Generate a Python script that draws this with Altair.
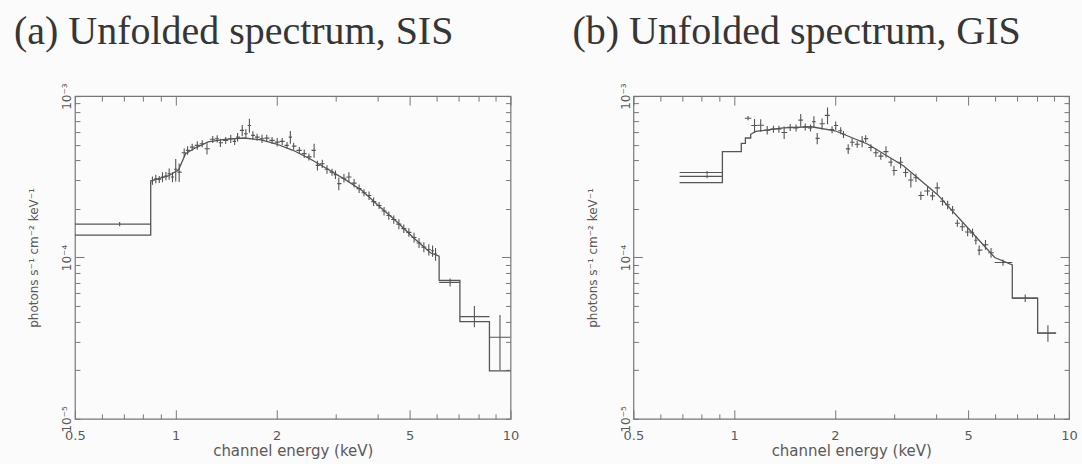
import altair as alt
import pandas as pd

# ---------------- data ----------------
# energies in keV, fluxes in units of 1e-4 photons s^-1 cm^-2 keV^-1

# SIS model (binned, step edges repeated)
SIS_MODEL_E = [0.5, 0.842, 0.842, 0.95, 1.02, 1.07, 1.15, 1.25, 1.4, 1.6,
               1.8, 2.0, 2.25, 2.53, 2.8, 3.2, 3.6, 4.05, 4.5, 5.12,
               5.76, 6.12, 6.12, 7.06, 7.06, 8.65, 8.65, 10.0]
SIS_MODEL_F = [1.375, 1.375, 2.98, 3.2, 3.5, 4.4, 4.8, 5.2, 5.4, 5.5,
               5.35, 5.05, 4.6, 4.06, 3.6, 3.05, 2.6, 2.08, 1.72, 1.33,
               1.07, 1.02, 0.72, 0.72, 0.40, 0.40, 0.198, 0.198]

# SIS data, narrow bins
SIS_E = [0.852, 0.872, 0.893, 0.913, 0.935, 0.956, 0.978, 1.00, 1.024, 1.06,
         1.085, 1.12, 1.16, 1.20, 1.24, 1.29, 1.33, 1.36, 1.41, 1.46,
         1.50, 1.53, 1.58, 1.62, 1.66, 1.70, 1.75, 1.81, 1.87, 1.94,
         2.01, 2.08, 2.15, 2.20, 2.25, 2.34, 2.42, 2.50, 2.59, 2.65,
         2.74, 2.83, 2.93, 3.00, 3.07, 3.18, 3.29, 3.41, 3.53, 3.65,
         3.78, 3.90, 4.05, 4.19, 4.33, 4.48, 4.64, 4.80, 4.97, 5.15,
         5.33, 5.51, 5.70, 5.85, 5.97]
SIS_F = [3.00, 3.07, 3.05, 3.15, 3.20, 3.30, 3.15, 3.52, 3.38, 4.46,
         4.61, 4.83, 4.95, 5.07, 4.72, 5.40, 5.44, 5.14, 5.32, 5.44,
         5.24, 5.57, 6.13, 5.85, 6.58, 5.71, 5.57, 5.44, 5.49, 5.32,
         5.19, 5.24, 4.95, 5.57, 4.90, 4.61, 4.40, 4.20, 4.61, 3.72,
         3.81, 3.52, 3.38, 3.26, 2.87, 3.10, 3.15, 2.89, 2.67, 2.52,
         2.42, 2.22, 2.10, 1.94, 1.82, 1.72, 1.61, 1.51, 1.43, 1.33,
         1.23, 1.16, 1.12, 1.10, 1.05]
SIS_ERR = [0.06, 0.06, 0.05, 0.07, 0.06, 0.08, 0.07, 0.16, 0.13, 0.06,
           0.06, 0.05, 0.06, 0.05, 0.08, 0.05, 0.05, 0.06, 0.05, 0.06,
           0.05, 0.06, 0.08, 0.07, 0.10, 0.06, 0.05, 0.06, 0.05, 0.05,
           0.06, 0.05, 0.05, 0.09, 0.05, 0.05, 0.06, 0.05, 0.10, 0.07,
           0.06, 0.06, 0.05, 0.06, 0.09, 0.06, 0.07, 0.06, 0.06, 0.05,
           0.06, 0.06, 0.05, 0.06, 0.06, 0.06, 0.07, 0.06, 0.06, 0.07,
           0.07, 0.07, 0.08, 0.08, 0.09]
# SIS data, wide bins
SIS_W_E = [0.68, 6.6, 7.8, 9.3]
SIS_W_F = [1.61, 0.70, 0.43, 0.32]
SIS_W_ELO = [0.5, 6.12, 7.06, 8.65]
SIS_W_EHI = [0.842, 7.06, 8.65, 10.0]
SIS_W_FLO = [1.56, 0.66, 0.37, 0.20]
SIS_W_FHI = [1.66, 0.74, 0.50, 0.44]

# GIS model
GIS_MODEL_E = [0.687, 0.922, 0.922, 1.05, 1.05, 1.08, 1.08, 1.12, 1.12, 1.16,
               1.4, 1.7, 2.0, 2.5, 3.2, 4.05, 5.1, 6.0, 6.77, 6.77,
               8.06, 8.06, 9.15]
GIS_MODEL_F = [2.91, 2.91, 4.53, 4.53, 5.1, 5.1, 5.5, 5.5, 5.8, 6.05,
               6.36, 6.46, 6.1, 5.05, 3.7, 2.45, 1.45, 1.0, 0.9, 0.56,
               0.56, 0.34, 0.34]

GIS_E = [1.10, 1.15, 1.20, 1.255, 1.31, 1.36, 1.41, 1.47, 1.53, 1.58,
         1.63, 1.69, 1.73, 1.77, 1.83, 1.90, 1.96, 2.01, 2.08, 2.12,
         2.19, 2.25, 2.33, 2.41, 2.47, 2.56, 2.65, 2.74, 2.84, 2.94,
         3.00, 3.14, 3.25, 3.37, 3.49, 3.61, 3.78, 3.91, 4.04, 4.19,
         4.34, 4.49, 4.64, 4.80, 4.98, 5.15, 5.27, 5.39, 5.63, 5.85]
GIS_F = [7.30, 6.57, 6.60, 6.15, 6.25, 6.25, 5.95, 6.40, 6.35, 7.10,
         6.45, 6.35, 6.95, 5.47, 6.74, 7.60, 6.20, 6.57, 6.10, 5.80,
         4.71, 5.18, 5.03, 5.24, 5.45, 4.80, 4.46, 4.25, 4.53, 3.90,
         3.46, 3.89, 3.36, 3.02, 3.12, 2.42, 2.58, 2.41, 2.70, 2.23,
         2.12, 1.97, 1.63, 1.55, 1.44, 1.42, 1.28, 1.11, 1.20, 1.07]
GIS_ERR = [0.03, 0.10, 0.09, 0.06, 0.05, 0.05, 0.09, 0.05, 0.05, 0.09,
           0.05, 0.05, 0.08, 0.08, 0.08, 0.12, 0.05, 0.06, 0.05, 0.05,
           0.07, 0.06, 0.05, 0.08, 0.05, 0.05, 0.06, 0.05, 0.08, 0.06,
           0.07, 0.08, 0.06, 0.10, 0.06, 0.06, 0.06, 0.06, 0.08, 0.06,
           0.06, 0.06, 0.05, 0.06, 0.06, 0.06, 0.06, 0.07, 0.07, 0.07]
GIS_W_E = [0.83, 0.83, 6.35, 7.4, 8.65]
GIS_W_F = [3.36, 3.18, 0.93, 0.56, 0.34]
GIS_W_ELO = [0.687, 0.687, 6.0, 6.77, 8.06]
GIS_W_EHI = [0.922, 0.922, 6.77, 8.06, 9.15]
GIS_W_FLO = [3.28, 3.10, 0.89, 0.53, 0.30]
GIS_W_FHI = [3.44, 3.26, 0.97, 0.59, 0.38]

TITLES = ["(a) Unfolded spectrum, SIS", "(b) Unfolded spectrum, GIS"]
X_TITLE = "channel energy (keV)"
Y_TITLE = "photons s⁻¹ cm⁻² keV⁻¹"

X_LABEL_VALUES = [0.5, 1, 2, 5, 10]
X_TICK_VALUES = [0.5, 0.6, 0.7, 0.8, 0.9, 1, 2, 3, 4, 5, 6, 7, 8, 9, 10]
Y_LABEL_VALUES = [1e-5, 1e-4, 1e-3]
Y_LABEL_TEXT = ["10⁻⁵", "10⁻⁴", "10⁻³"]
Y_TICK_VALUES = [1e-5, 2e-5, 3e-5, 4e-5, 5e-5, 6e-5, 7e-5, 8e-5, 9e-5,
                 1e-4, 2e-4, 3e-4, 4e-4, 5e-4, 6e-4, 7e-4, 8e-4, 9e-4, 1e-3]

# ---------------- styling ----------------
W, H = 436, 323
LINE = "#555555"
FRAME = "#777777"
TEXT = "#5a5a5a"
BG = "#fbfbfb"
SANS = "DejaVu Sans"

xs = alt.Scale(type="log", domain=[0.5, 10], nice=False)
ys = alt.Scale(type="log", domain=[1e-5, 1e-3], nice=False)

y_label_expr = (f"datum.value < {(Y_LABEL_VALUES[0]*Y_LABEL_VALUES[1])**0.5} ? '{Y_LABEL_TEXT[0]}' : "
                f"datum.value < {(Y_LABEL_VALUES[1]*Y_LABEL_VALUES[2])**0.5} ? '{Y_LABEL_TEXT[1]}' : "
                f"'{Y_LABEL_TEXT[2]}'")
X_MAJOR = "indexof([0.5, 1, 2, 5, 10], datum.value) >= 0"
Y_MAJOR = "datum.value > 9e-5 && datum.value < 1.1e-4"


def tick_axis(orient, offset, values, test):
    return alt.Axis(orient=orient, offset=offset, values=values, labels=False,
                    domain=False, grid=False, ticks=True,
                    tickSize={"condition": {"test": test, "value": 9}, "value": 5},
                    tickColor=FRAME, tickWidth=1, title="")


def points_frame(E, F, ERR, wE, wF, wELO, wEHI, wFLO, wFHI):
    n = len(E)
    rows = []
    for k in range(n):
        if k > 0:
            lo = (E[k - 1] * E[k]) ** 0.5
        else:
            lo = E[k] ** 2 / (E[k] * E[k + 1]) ** 0.5
        if k < n - 1:
            hi = (E[k] * E[k + 1]) ** 0.5
        else:
            hi = E[k] ** 2 / (E[k - 1] * E[k]) ** 0.5
        v = F[k] * 1e-4
        rows.append({"E": E[k], "v": v, "vlo": v * (1 - ERR[k]), "vhi": v * (1 + ERR[k]),
                     "elo": lo, "ehi": hi})
    for k in range(len(wE)):
        rows.append({"E": wE[k], "v": wF[k] * 1e-4, "vlo": wFLO[k] * 1e-4,
                     "vhi": wFHI[k] * 1e-4, "elo": wELO[k], "ehi": wEHI[k]})
    return pd.DataFrame(rows)


def panel(title, mE, mF, pts):
    model = pd.DataFrame({"i": list(range(len(mE))), "E": mE, "v": [f * 1e-4 for f in mF]})
    lab_x = alt.Axis(orient="bottom", values=X_LABEL_VALUES, format="~g", ticks=False,
                     domain=False, grid=False, labelFont=SANS, labelFontSize=13,
                     labelColor=TEXT, labelPadding=11, labelFlush=False, labelOverlap=False,
                     title=X_TITLE, titleFont=SANS, titleFontSize=15, titleFontWeight="normal",
                     titleColor=TEXT, titlePadding=1)
    lab_y = alt.Axis(orient="left", values=Y_LABEL_VALUES, labelExpr=y_label_expr,
                     labelAngle=270, labelAlign="center", labelBaseline="bottom",
                     ticks=False, domain=False, grid=False, labelFont=SANS, labelFontSize=12,
                     labelColor=TEXT, labelPadding=1, labelFlush=False, labelOverlap=False,
                     title=Y_TITLE, titleFont=SANS, titleFontSize=12, titleFontWeight="normal",
                     titleColor=TEXT, titlePadding=20)
    model_layer = alt.Chart(model).mark_line(color=LINE, strokeWidth=1.3, clip=True).encode(
        x=alt.X("E:Q", scale=xs, axis=lab_x),
        y=alt.Y("v:Q", scale=ys, axis=lab_y),
        order="i:Q",
    )
    vrule = alt.Chart(pts).mark_rule(color=LINE, strokeWidth=1.1, clip=True).encode(
        x=alt.X("E:Q", scale=xs, axis=tick_axis("top", -H, X_TICK_VALUES, X_MAJOR)),
        y=alt.Y("vlo:Q", scale=ys, axis=tick_axis("right", -W, Y_TICK_VALUES, Y_MAJOR)),
        y2="vhi:Q",
    )
    hrule = alt.Chart(pts).mark_rule(color=LINE, strokeWidth=1.1, clip=True).encode(
        x=alt.X("elo:Q", scale=xs, axis=tick_axis("bottom", -H, X_TICK_VALUES, X_MAJOR)),
        x2="ehi:Q",
        y=alt.Y("v:Q", scale=ys, axis=tick_axis("left", -W, Y_TICK_VALUES, Y_MAJOR)),
    )
    return alt.layer(model_layer, vrule, hrule).resolve_axis(
        x="independent", y="independent"
    ).properties(
        width=W, height=H,
        title=alt.TitleParams(text=title, anchor="start", frame="group", dx=-61,
                              font="Liberation Serif", fontSize=40, fontWeight="normal",
                              color="#363636", offset=31),
    )


sis_pts = points_frame(SIS_E, SIS_F, SIS_ERR, SIS_W_E, SIS_W_F, SIS_W_ELO, SIS_W_EHI,
                       SIS_W_FLO, SIS_W_FHI)
gis_pts = points_frame(GIS_E, GIS_F, GIS_ERR, GIS_W_E, GIS_W_F, GIS_W_ELO, GIS_W_EHI,
                       GIS_W_FLO, GIS_W_FHI)

left = panel(TITLES[0], SIS_MODEL_E, SIS_MODEL_F, sis_pts)
right = panel(TITLES[1], GIS_MODEL_E, GIS_MODEL_F, gis_pts)

chart = alt.hconcat(left, right, spacing=123, bounds="flush").configure_view(
    stroke=FRAME, strokeWidth=1.2
).properties(
    background=BG,
    padding={"left": 13, "top": 11, "right": 4, "bottom": 4},
)

chart.save("out.html", embed_options={"renderer": "svg", "actions": False})
